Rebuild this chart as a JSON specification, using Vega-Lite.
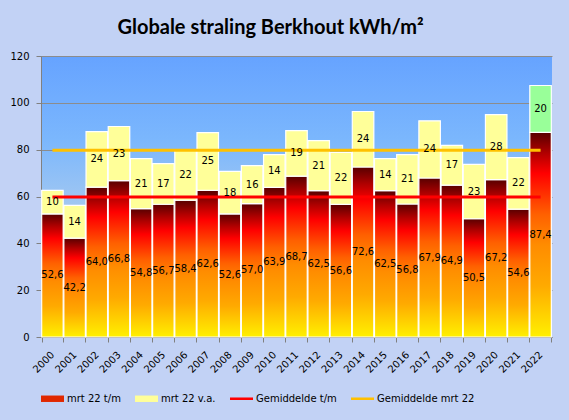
{
  "$schema": "https://vega.github.io/schema/vega-lite/v6.json",
  "description": "Globale straling Berkhout, maart t/m en vanaf maart 2022.",
  "width": 511,
  "height": 281,
  "autosize": "none",
  "padding": {"left": 41, "top": 56, "right": 17, "bottom": 83},
  "background": "#C2D2F5",
  "title": {
    "text": "Globale straling Berkhout kWh/m²",
    "font": "Lato",
    "fontSize": 20,
    "fontWeight": "bold",
    "color": "#000000",
    "anchor": "middle",
    "frame": "group",
    "offset": 13,
    "dx": -26
  },
  "datasets": {
    "straling": [
      {"jaar": "2000", "serie": "mrt 22 t/m", "waarde": 52.6},
      {"jaar": "2000", "serie": "mrt 22 v.a.", "waarde": 10.0},
      {"jaar": "2001", "serie": "mrt 22 t/m", "waarde": 42.2},
      {"jaar": "2001", "serie": "mrt 22 v.a.", "waarde": 14.0},
      {"jaar": "2002", "serie": "mrt 22 t/m", "waarde": 64.0},
      {"jaar": "2002", "serie": "mrt 22 v.a.", "waarde": 23.7},
      {"jaar": "2003", "serie": "mrt 22 t/m", "waarde": 66.8},
      {"jaar": "2003", "serie": "mrt 22 v.a.", "waarde": 23.1},
      {"jaar": "2004", "serie": "mrt 22 t/m", "waarde": 54.8},
      {"jaar": "2004", "serie": "mrt 22 v.a.", "waarde": 21.4},
      {"jaar": "2005", "serie": "mrt 22 t/m", "waarde": 56.7},
      {"jaar": "2005", "serie": "mrt 22 v.a.", "waarde": 17.3},
      {"jaar": "2006", "serie": "mrt 22 t/m", "waarde": 58.4},
      {"jaar": "2006", "serie": "mrt 22 v.a.", "waarde": 21.6},
      {"jaar": "2007", "serie": "mrt 22 t/m", "waarde": 62.6},
      {"jaar": "2007", "serie": "mrt 22 v.a.", "waarde": 24.7},
      {"jaar": "2008", "serie": "mrt 22 t/m", "waarde": 52.6},
      {"jaar": "2008", "serie": "mrt 22 v.a.", "waarde": 18.1},
      {"jaar": "2009", "serie": "mrt 22 t/m", "waarde": 57.0},
      {"jaar": "2009", "serie": "mrt 22 v.a.", "waarde": 16.2},
      {"jaar": "2010", "serie": "mrt 22 t/m", "waarde": 63.9},
      {"jaar": "2010", "serie": "mrt 22 v.a.", "waarde": 14.0},
      {"jaar": "2011", "serie": "mrt 22 t/m", "waarde": 68.7},
      {"jaar": "2011", "serie": "mrt 22 v.a.", "waarde": 19.4},
      {"jaar": "2012", "serie": "mrt 22 t/m", "waarde": 62.5},
      {"jaar": "2012", "serie": "mrt 22 v.a.", "waarde": 21.4},
      {"jaar": "2013", "serie": "mrt 22 t/m", "waarde": 56.6},
      {"jaar": "2013", "serie": "mrt 22 v.a.", "waarde": 22.2},
      {"jaar": "2014", "serie": "mrt 22 t/m", "waarde": 72.6},
      {"jaar": "2014", "serie": "mrt 22 v.a.", "waarde": 23.7},
      {"jaar": "2015", "serie": "mrt 22 t/m", "waarde": 62.5},
      {"jaar": "2015", "serie": "mrt 22 v.a.", "waarde": 13.7},
      {"jaar": "2016", "serie": "mrt 22 t/m", "waarde": 56.8},
      {"jaar": "2016", "serie": "mrt 22 v.a.", "waarde": 21.1},
      {"jaar": "2017", "serie": "mrt 22 t/m", "waarde": 67.9},
      {"jaar": "2017", "serie": "mrt 22 v.a.", "waarde": 24.4},
      {"jaar": "2018", "serie": "mrt 22 t/m", "waarde": 64.9},
      {"jaar": "2018", "serie": "mrt 22 v.a.", "waarde": 16.9},
      {"jaar": "2019", "serie": "mrt 22 t/m", "waarde": 50.5},
      {"jaar": "2019", "serie": "mrt 22 v.a.", "waarde": 23.2},
      {"jaar": "2020", "serie": "mrt 22 t/m", "waarde": 67.2},
      {"jaar": "2020", "serie": "mrt 22 v.a.", "waarde": 27.8},
      {"jaar": "2021", "serie": "mrt 22 t/m", "waarde": 54.6},
      {"jaar": "2021", "serie": "mrt 22 v.a.", "waarde": 22.0},
      {"jaar": "2022", "serie": "mrt 22 t/m", "waarde": 87.4},
      {"jaar": "2022", "serie": "mrt 22 v.a.", "waarde": 20.0}
    ],
    "gemiddelden": [
      {"serie": "Gemiddelde t/m", "van": "2000", "tot": "2022", "waarde": 59.8},
      {"serie": "Gemiddelde mrt 22", "van": "2000", "tot": "2022", "waarde": 79.8}
    ]
  },
  "layer": [
    {
      "data": {"name": "straling"},
      "transform": [
        {"stack": "waarde", "groupby": ["jaar"], "sort": [{"field": "serie", "order": "ascending"}], "as": ["y0", "y1"]}
      ],
      "mark": {"type": "bar", "stroke": "#FFFFFF", "strokeWidth": 1.2},
      "encoding": {
        "x": {
          "field": "jaar",
          "type": "nominal",
          "title": null,
          "scale": {"paddingInner": 0.03, "paddingOuter": 0.03},
          "axis": {
            "labelAngle": -45,
            "labelAlign": "right",
            "labelBaseline": "middle",
            "labelPadding": 11,
            "tickBand": "extent",
            "tickSize": 5,
            "grid": false
          }
        },
        "y": {
          "field": "y1",
          "type": "quantitative",
          "title": null,
          "scale": {"domain": [0, 120], "nice": false},
          "axis": {"values": [0, 20, 40, 60, 80, 100, 120], "grid": true, "tickSize": 5, "labelPadding": 7}
        },
        "y2": {"field": "y0"},
        "color": {
          "field": "serie",
          "type": "nominal",
          "scale": {
            "domain": ["mrt 22 t/m", "mrt 22 v.a.", "Gemiddelde t/m", "Gemiddelde mrt 22"],
            "range": ["#E02800", "#FFFF99", "#FF0000", "#FFC000"]
          },
          "condition": [
            {
              "test": "datum.serie === 'mrt 22 t/m'",
              "value": {
                "gradient": "linear", "x1": 0, "y1": 0, "x2": 0, "y2": 1,
                "stops": [
                  {"offset": 0, "color": "#580000"},
                  {"offset": 0.1, "color": "#B00000"},
                  {"offset": 0.2, "color": "#FF0000"},
                  {"offset": 0.4, "color": "#FF6000"},
                  {"offset": 0.55, "color": "#FF8C00"},
                  {"offset": 0.75, "color": "#FFAA00"},
                  {"offset": 1, "color": "#FFF000"}
                ]
              }
            },
            {"test": "datum.jaar === '2022'", "value": "#99FF99"}
          ],
          "legend": {
            "title": null,
            "orient": "bottom",
            "direction": "horizontal",
            "offset": 12,
            "padding": 0,
            "labelFont": "DejaVu Sans",
            "labelFontSize": 10,
            "labelColor": "#000000",
            "labelOffset": 3,
            "columnPadding": 14,
            "symbolSize": 529,
            "encoding": {
              "symbols": {
                "shape": {
                  "condition": {"test": "indexof(datum.label, 'Gemiddelde') === 0", "value": "M-1,-0.11H1V0.11H-1Z"},
                  "value": "M-1,-0.28H1V0.28H-1Z"
                },
                "stroke": {"value": "transparent"},
                "strokeWidth": {"value": 0},
                "opacity": {"value": 1},
                "fillOpacity": {"value": 1}
              }
            }
          }
        }
      }
    },
    {
      "data": {"name": "gemiddelden"},
      "mark": {"type": "rule", "strokeWidth": 3},
      "encoding": {
        "x": {"field": "van", "type": "nominal", "title": null},
        "x2": {"field": "tot"},
        "y": {"field": "waarde", "type": "quantitative", "title": null},
        "color": {"field": "serie", "type": "nominal"}
      }
    },
    {
      "data": {"name": "straling"},
      "transform": [
        {"stack": "waarde", "groupby": ["jaar"], "sort": [{"field": "serie", "order": "ascending"}], "as": ["y0", "y1"]},
        {"filter": "datum.serie === 'mrt 22 t/m'"},
        {"fold": ["y0", "y1"], "as": ["rand", "pos"]}
      ],
      "mark": {"type": "text", "font": "DejaVu Sans", "fontSize": 10, "color": "#000000", "baseline": "middle"},
      "encoding": {
        "x": {"field": "jaar", "type": "nominal", "title": null},
        "y": {"field": "pos", "aggregate": "mean", "type": "quantitative", "title": null},
        "detail": {"field": "serie"},
        "text": {"field": "waarde", "aggregate": "max", "type": "quantitative", "format": ".1f"}
      }
    },
    {
      "data": {"name": "straling"},
      "transform": [
        {"stack": "waarde", "groupby": ["jaar"], "sort": [{"field": "serie", "order": "ascending"}], "as": ["y0", "y1"]},
        {"filter": "datum.serie === 'mrt 22 v.a.'"},
        {"fold": ["y0", "y1"], "as": ["rand", "pos"]}
      ],
      "mark": {"type": "text", "font": "DejaVu Sans", "fontSize": 10, "color": "#000000", "baseline": "middle"},
      "encoding": {
        "x": {"field": "jaar", "type": "nominal", "title": null},
        "y": {"field": "pos", "aggregate": "mean", "type": "quantitative", "title": null},
        "detail": {"field": "serie"},
        "text": {"field": "waarde", "aggregate": "max", "type": "quantitative", "format": ".0f"}
      }
    }
  ],
  "config": {
    "locale": {
      "number": {"decimal": ",", "thousands": ".", "grouping": [3], "currency": ["€ ", ""]}
    },
    "view": {
      "stroke": null,
      "fill": {
        "gradient": "linear", "x1": 0, "y1": 0, "x2": 0, "y2": 1,
        "stops": [
          {"offset": 0, "color": "#66A3FF"},
          {"offset": 0.3, "color": "#7BB7FD"},
          {"offset": 0.55, "color": "#A4C8F0"},
          {"offset": 0.8, "color": "#CAD7EE"},
          {"offset": 1, "color": "#DFDFF3"}
        ]
      }
    },
    "axis": {
      "labelFont": "DejaVu Sans",
      "labelFontSize": 10,
      "labelColor": "#000000",
      "domainColor": "#808080",
      "tickColor": "#808080",
      "gridColor": "#8C8C8C",
      "gridOpacity": 1
    }
  }
}
